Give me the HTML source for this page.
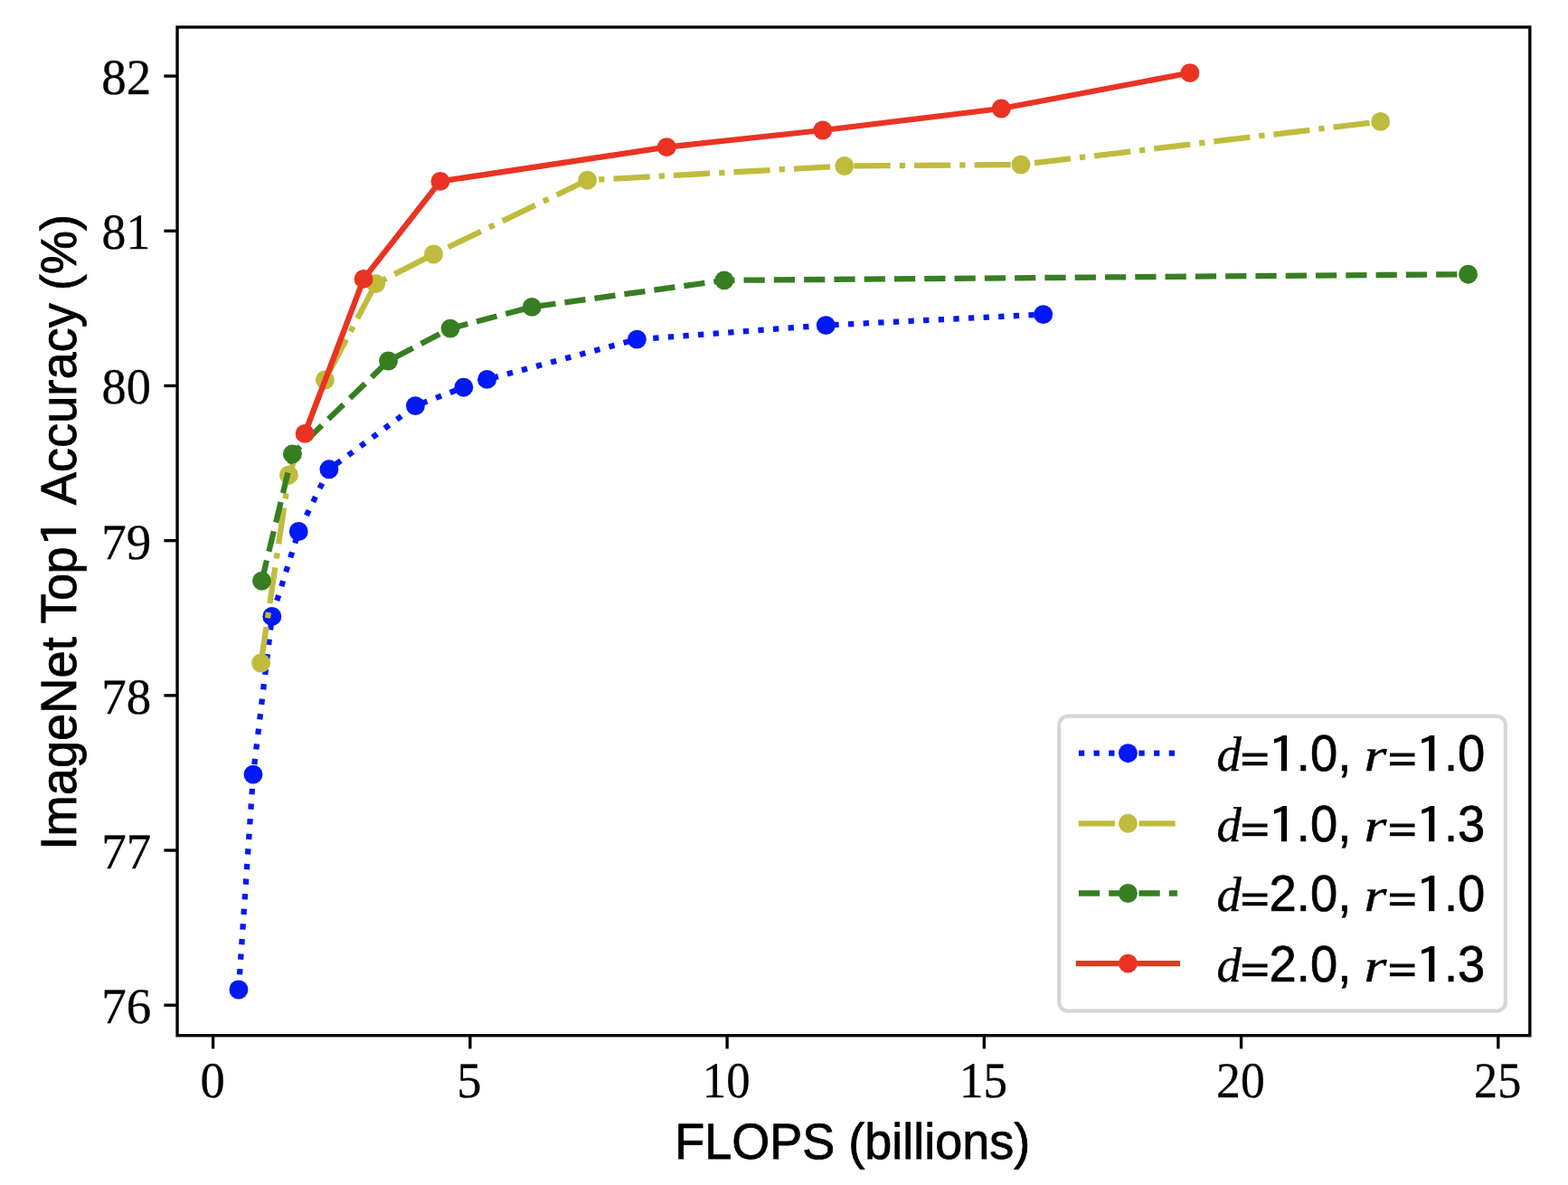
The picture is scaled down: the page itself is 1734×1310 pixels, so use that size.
<!DOCTYPE html>
<html lang="en"><head><meta charset="utf-8"><title>ImageNet Top1 Accuracy (%) - FLOPS (billions)</title>
<style>html,body{margin:0;padding:0;background:#fff;}svg{display:block;}.sans{font-family:"Liberation Sans",sans-serif;}.serif{font-family:"Liberation Serif",serif;}.it{font-family:"Liberation Serif",serif;font-style:italic;}text{fill:#000;text-rendering:geometricPrecision;}</style></head><body>
<svg width="1734" height="1310" viewBox="0 0 1734 1310">
<rect x="0" y="0" width="1734" height="1310" fill="#fff"/>
<g id="plot">
<polyline points="263.9,1094 280,856.1 300.8,681.4 330.2,587.5 363.9,518.8 459.4,448.6 512.8,428.2 538.6,419.4 704.4,375.1 913.3,359.6 1153.7,347.6" fill="none" stroke="#0019F5" stroke-width="6.28" stroke-linejoin="round" stroke-linecap="butt" stroke-dasharray="6.28,10.36"/>
<circle cx="263.9" cy="1094" r="10.45" fill="#0019F5"/>
<circle cx="280" cy="856.1" r="10.45" fill="#0019F5"/>
<circle cx="300.8" cy="681.4" r="10.45" fill="#0019F5"/>
<circle cx="330.2" cy="587.5" r="10.45" fill="#0019F5"/>
<circle cx="363.9" cy="518.8" r="10.45" fill="#0019F5"/>
<circle cx="459.4" cy="448.6" r="10.45" fill="#0019F5"/>
<circle cx="512.8" cy="428.2" r="10.45" fill="#0019F5"/>
<circle cx="538.6" cy="419.4" r="10.45" fill="#0019F5"/>
<circle cx="704.4" cy="375.1" r="10.45" fill="#0019F5"/>
<circle cx="913.3" cy="359.6" r="10.45" fill="#0019F5"/>
<circle cx="1153.7" cy="347.6" r="10.45" fill="#0019F5"/>
<polyline points="288.6,733 319.4,525.2 359.4,420 415.6,313.6 479.5,281 649.6,199.2 933.8,183.5 1129,182 1526.7,134.4" fill="none" stroke="#BFBC3D" stroke-width="6.28" stroke-linejoin="round" stroke-linecap="butt" stroke-dasharray="40.2,10.05,6.28,10.05"/>
<circle cx="288.6" cy="733" r="10.45" fill="#BFBC3D"/>
<circle cx="319.4" cy="525.2" r="10.45" fill="#BFBC3D"/>
<circle cx="359.4" cy="420" r="10.45" fill="#BFBC3D"/>
<circle cx="415.6" cy="313.6" r="10.45" fill="#BFBC3D"/>
<circle cx="479.5" cy="281" r="10.45" fill="#BFBC3D"/>
<circle cx="649.6" cy="199.2" r="10.45" fill="#BFBC3D"/>
<circle cx="933.8" cy="183.5" r="10.45" fill="#BFBC3D"/>
<circle cx="1129" cy="182" r="10.45" fill="#BFBC3D"/>
<circle cx="1526.7" cy="134.4" r="10.45" fill="#BFBC3D"/>
<polyline points="289.5,642.2 323.4,501.9 429.5,399 498,363.1 588.2,339.4 800.9,309.9 1623.6,303.2" fill="none" stroke="#377E22" stroke-width="6.28" stroke-linejoin="round" stroke-linecap="butt" stroke-dasharray="23.24,10.05"/>
<circle cx="289.5" cy="642.2" r="10.45" fill="#377E22"/>
<circle cx="323.4" cy="501.9" r="10.45" fill="#377E22"/>
<circle cx="429.5" cy="399" r="10.45" fill="#377E22"/>
<circle cx="498" cy="363.1" r="10.45" fill="#377E22"/>
<circle cx="588.2" cy="339.4" r="10.45" fill="#377E22"/>
<circle cx="800.9" cy="309.9" r="10.45" fill="#377E22"/>
<circle cx="1623.6" cy="303.2" r="10.45" fill="#377E22"/>
<polyline points="337.1,479.4 402.1,308.4 486.9,200.4 737.3,162.6 909.8,144 1107.3,120 1315.9,80.6" fill="none" stroke="#EA3323" stroke-width="6.28" stroke-linejoin="round" stroke-linecap="square"/>
<circle cx="337.1" cy="479.4" r="10.45" fill="#EA3323"/>
<circle cx="402.1" cy="308.4" r="10.45" fill="#EA3323"/>
<circle cx="486.9" cy="200.4" r="10.45" fill="#EA3323"/>
<circle cx="737.3" cy="162.6" r="10.45" fill="#EA3323"/>
<circle cx="909.8" cy="144" r="10.45" fill="#EA3323"/>
<circle cx="1107.3" cy="120" r="10.45" fill="#EA3323"/>
<circle cx="1315.9" cy="80.6" r="10.45" fill="#EA3323"/>
</g>
<g id="ticks" stroke="#000" stroke-width="3.35" fill="none">
<line x1="235.62" y1="1144.75" x2="235.62" y2="1159.41"/>
<line x1="519.86" y1="1144.75" x2="519.86" y2="1159.41"/>
<line x1="804.1" y1="1144.75" x2="804.1" y2="1159.41"/>
<line x1="1088.35" y1="1144.75" x2="1088.35" y2="1159.41"/>
<line x1="1372.59" y1="1144.75" x2="1372.59" y2="1159.41"/>
<line x1="1656.83" y1="1144.75" x2="1656.83" y2="1159.41"/>
<line x1="196.05" y1="1111.2" x2="181.39" y2="1111.2"/>
<line x1="196.05" y1="940.01" x2="181.39" y2="940.01"/>
<line x1="196.05" y1="768.83" x2="181.39" y2="768.83"/>
<line x1="196.05" y1="597.65" x2="181.39" y2="597.65"/>
<line x1="196.05" y1="426.46" x2="181.39" y2="426.46"/>
<line x1="196.05" y1="255.28" x2="181.39" y2="255.28"/>
<line x1="196.05" y1="84.09" x2="181.39" y2="84.09"/>
</g>
<g id="xticklabels" class="serif" font-size="55.66" text-anchor="middle" stroke="#000" stroke-width="0.3">
<text transform="translate(235.12,1213) scale(0.9818,1)">0</text>
<text transform="translate(518.76,1213) scale(0.9778,1)">5</text>
<text transform="translate(803.25,1213) scale(0.9482,1)">10</text>
<text transform="translate(1087.6,1213) scale(0.9521,1)">15</text>
<text transform="translate(1371.94,1213) scale(0.9650,1)">20</text>
<text transform="translate(1656.13,1213) scale(0.9354,1)">25</text>
</g>
<g id="yticklabels" class="serif" font-size="55.66" text-anchor="end" stroke="#000" stroke-width="0.3">
<text transform="translate(167.3,1131) scale(0.9877,1)">76</text>
<text transform="translate(167.3,960) scale(0.9877,1)">77</text>
<text transform="translate(167.3,789) scale(0.9877,1)">78</text>
<text transform="translate(167.3,618) scale(0.9877,1)">79</text>
<text transform="translate(167,446) scale(0.9778,1)">80</text>
<text transform="translate(166.2,275) scale(0.9630,1)">81</text>
<text transform="translate(167.3,104) scale(0.9877,1)">82</text>
</g>
<rect x="196.05" y="30" width="1495.8" height="1114.75" fill="none" stroke="#000" stroke-width="3.35" stroke-linejoin="miter"/>
<text class="sans" font-size="54.4" text-anchor="middle" stroke="#000" stroke-width="0.8" transform="translate(942.7,1281) scale(0.9925,1.025)">FLOPS (billions)</text>
<text class="sans" font-size="54.4" stroke="#000" stroke-width="0.8" transform="translate(84,587.5) rotate(-90) scale(0.998,1.02)"><tspan x="-352.78" y="0">ImageNet </tspan><tspan x="-102.16" y="0">T</tspan><tspan x="-76.55" y="0">o</tspan><tspan x="-47.11" y="0">p</tspan><tspan x="-19.17" y="2.79" font-size="54.9" textLength="36.49" font-family="IPAGothic,'Liberation Sans',sans-serif" stroke="none" lengthAdjust="spacingAndGlyphs">1</tspan><tspan x="17.1" y="0"> Accuracy</tspan><tspan x="251.68" y="0"> (%)</tspan></text>
<g id="legend">
<rect x="1171.25" y="791.6" width="493.6" height="326.1" rx="10" ry="10" fill="#fff" fill-opacity="0.8" stroke="#D6D6D6" stroke-width="4.19"/>
<line x1="1192.9" y1="832.7" x2="1301.9" y2="832.7" stroke="#0019F5" stroke-width="6.28" stroke-dasharray="6.28,10.36"/>
<circle cx="1247.4" cy="832.7" r="10.45" fill="#0019F5"/>
<text class="sans" font-size="54.4" stroke="#000" stroke-width="0.7"><tspan class="it" stroke-width="0.45" x="1345.6" y="852">d</tspan><tspan x="1372.25" y="852" font-size="38.37" textLength="31.04" lengthAdjust="spacingAndGlyphs" stroke-width="1.28">=</tspan><tspan x="1400.08" y="855" font-family="IPAGothic,'Liberation Sans',sans-serif" font-size="56.03" textLength="37.82" lengthAdjust="spacingAndGlyphs" stroke="none">1</tspan><tspan x="1433.85" y="852" font-size="56.3" textLength="60.48" lengthAdjust="spacingAndGlyphs">.0,</tspan><tspan> </tspan><tspan class="it" stroke-width="0.45" x="1508.4" y="852" font-size="50.86" textLength="24.98" lengthAdjust="spacingAndGlyphs">r</tspan><tspan x="1535.15" y="852" font-size="38.37" textLength="31.04" lengthAdjust="spacingAndGlyphs" stroke-width="1.28">=</tspan><tspan x="1563.18" y="855" font-family="IPAGothic,'Liberation Sans',sans-serif" font-size="56.03" textLength="37.82" lengthAdjust="spacingAndGlyphs" stroke="none">1</tspan><tspan x="1596.95" y="852" font-size="56.3" textLength="45.37" lengthAdjust="spacingAndGlyphs">.0</tspan></text>
<line x1="1192.9" y1="910.3" x2="1301.9" y2="910.3" stroke="#BFBC3D" stroke-width="6.28" stroke-dasharray="40.2,10.05,6.28,10.05"/>
<circle cx="1247.4" cy="910.3" r="10.45" fill="#BFBC3D"/>
<text class="sans" font-size="54.4" stroke="#000" stroke-width="0.7"><tspan class="it" stroke-width="0.45" x="1345.6" y="930">d</tspan><tspan x="1372.25" y="930" font-size="38.37" textLength="31.04" lengthAdjust="spacingAndGlyphs" stroke-width="1.28">=</tspan><tspan x="1400.08" y="933" font-family="IPAGothic,'Liberation Sans',sans-serif" font-size="56.03" textLength="37.82" lengthAdjust="spacingAndGlyphs" stroke="none">1</tspan><tspan x="1433.85" y="930" font-size="56.3" textLength="60.48" lengthAdjust="spacingAndGlyphs">.0,</tspan><tspan> </tspan><tspan class="it" stroke-width="0.45" x="1508.4" y="930" font-size="50.86" textLength="24.98" lengthAdjust="spacingAndGlyphs">r</tspan><tspan x="1535.15" y="930" font-size="38.37" textLength="31.04" lengthAdjust="spacingAndGlyphs" stroke-width="1.28">=</tspan><tspan x="1563.18" y="933" font-family="IPAGothic,'Liberation Sans',sans-serif" font-size="56.03" textLength="37.82" lengthAdjust="spacingAndGlyphs" stroke="none">1</tspan><tspan x="1596.95" y="930" font-size="56.3" textLength="45.37" lengthAdjust="spacingAndGlyphs">.3</tspan></text>
<line x1="1192.9" y1="987.5" x2="1301.9" y2="987.5" stroke="#377E22" stroke-width="6.28" stroke-dasharray="23.24,10.05"/>
<circle cx="1247.4" cy="987.5" r="10.45" fill="#377E22"/>
<text class="sans" font-size="54.4" stroke="#000" stroke-width="0.7"><tspan class="it" stroke-width="0.45" x="1345.6" y="1007">d</tspan><tspan x="1372.25" y="1007" font-size="38.37" textLength="31.04" lengthAdjust="spacingAndGlyphs" stroke-width="1.28">=</tspan><tspan x="1403.6" y="1007" font-size="56.3" textLength="90.74" lengthAdjust="spacingAndGlyphs">2.0,</tspan><tspan> </tspan><tspan class="it" stroke-width="0.45" x="1508.4" y="1007" font-size="50.86" textLength="24.98" lengthAdjust="spacingAndGlyphs">r</tspan><tspan x="1535.15" y="1007" font-size="38.37" textLength="31.04" lengthAdjust="spacingAndGlyphs" stroke-width="1.28">=</tspan><tspan x="1563.18" y="1010" font-family="IPAGothic,'Liberation Sans',sans-serif" font-size="56.03" textLength="37.82" lengthAdjust="spacingAndGlyphs" stroke="none">1</tspan><tspan x="1596.95" y="1007" font-size="56.3" textLength="45.37" lengthAdjust="spacingAndGlyphs">.0</tspan></text>
<line x1="1192.9" y1="1065.1" x2="1301.9" y2="1065.1" stroke="#EA3323" stroke-width="6.28" stroke-linecap="square"/>
<circle cx="1247.4" cy="1065.1" r="10.45" fill="#EA3323"/>
<text class="sans" font-size="54.4" stroke="#000" stroke-width="0.7"><tspan class="it" stroke-width="0.45" x="1345.6" y="1085">d</tspan><tspan x="1372.25" y="1085" font-size="38.37" textLength="31.04" lengthAdjust="spacingAndGlyphs" stroke-width="1.28">=</tspan><tspan x="1403.6" y="1085" font-size="56.3" textLength="90.74" lengthAdjust="spacingAndGlyphs">2.0,</tspan><tspan> </tspan><tspan class="it" stroke-width="0.45" x="1508.4" y="1085" font-size="50.86" textLength="24.98" lengthAdjust="spacingAndGlyphs">r</tspan><tspan x="1535.15" y="1085" font-size="38.37" textLength="31.04" lengthAdjust="spacingAndGlyphs" stroke-width="1.28">=</tspan><tspan x="1563.18" y="1088" font-family="IPAGothic,'Liberation Sans',sans-serif" font-size="56.03" textLength="37.82" lengthAdjust="spacingAndGlyphs" stroke="none">1</tspan><tspan x="1596.95" y="1085" font-size="56.3" textLength="45.37" lengthAdjust="spacingAndGlyphs">.3</tspan></text>
</g>
</svg></body></html>
